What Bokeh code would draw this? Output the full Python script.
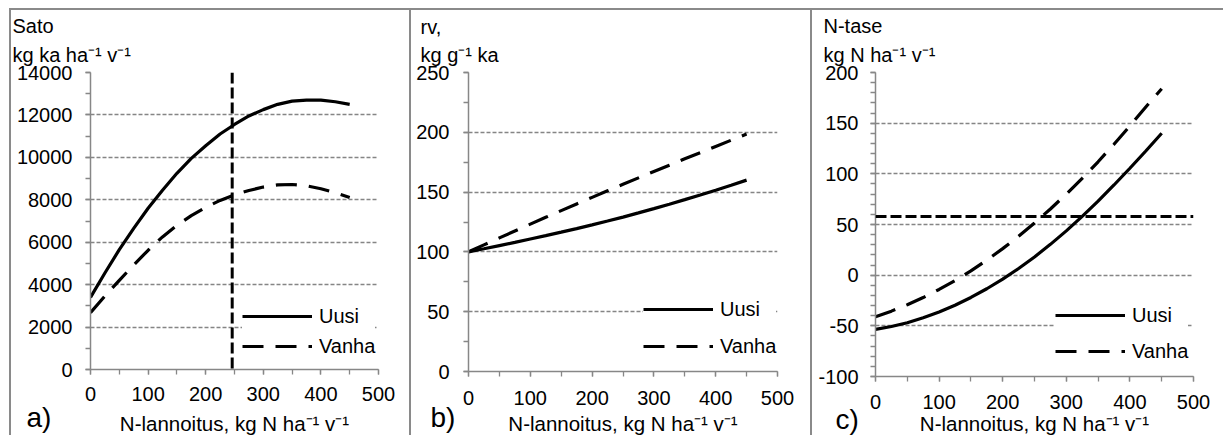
from bokeh.plotting import figure
from bokeh.models import (Range1d, FixedTicker, Span, Label, Legend, LegendItem,
                          Title, PrintfTickFormatter)
from bokeh.layouts import row, column
from bokeh.embed import file_html
from bokeh.resources import INLINE

# ---------------- data ----------------
n_rate = [0, 25, 50, 75, 100, 125, 150, 175, 200, 225, 250, 275, 300, 325, 350, 375, 400, 425, 450]

sato_uusi = [3400, 4550, 5650, 6650, 7600, 8450, 9250, 9950, 10550, 11100, 11550, 11950,
             12250, 12500, 12650, 12700, 12700, 12620, 12500]
sato_vanha = [2680, 3460, 4200, 4930, 5620, 6250, 6800, 7250, 7640, 7970, 8230, 8440,
              8600, 8700, 8720, 8660, 8520, 8330, 8110]

rv_uusi = [100, 102.6, 105.3, 108, 110.8, 113.6, 116.5, 119.5, 122.6, 125.8, 129.1, 132.6,
           136.2, 139.9, 143.7, 147.6, 151.6, 155.7, 160]
rv_vanha = [100, 105.9, 111.7, 117.5, 123.2, 128.9, 134.5, 140.1, 145.6, 151.1, 156.5, 161.9,
            167.2, 172.5, 177.8, 183.0, 188.2, 193.4, 198.5]

ntase_uusi = [-53.5, -50.7, -46.9, -42.1, -36.4, -29.7, -22, -13.4, -3.9, 6.6, 18, 30.4,
              43.7, 58, 73, 89, 105.5, 122.5, 140]
ntase_vanha = [-41, -35.5, -29.2, -22.1, -14.1, -5.3, 4.3, 14.9, 26.2, 38.4, 51.5, 65.3,
               80, 95.6, 111.9, 129.2, 147.3, 166, 184]

sato_marker_x = 246      # vertical reference line in panel a
ntase_marker_y = 58      # horizontal reference line in panel c

series_names = ["Uusi", "Vanha"]
x_ticks = [0, 100, 200, 300, 400, 500]
x_minor = [0, 50, 100, 150, 200, 250, 300, 350, 400, 450, 500]
x_title = "N-lannoitus, kg N ha\u207b\u00b9 v\u207b\u00b9"

# ---------------- style ----------------
FONT = "Liberation Sans"
GRAY = "#858585"
AXIS_GRAY = "#878787"
BORDER = "2px solid #8a8a8a"
TOP = 62


def make_panel(width, height, frame_left, frame_w, bottom, y_range, y_major, y_minor,
               legend_loc, legend_spacing, y_standoff, x_standoff, xt_standoff,
               ys_uusi, ys_vanha, name1, name2, title_offset, letter, letter_xy,
               inner_standoff, outer_standoff, styles):
    p = figure(width=width, height=height, output_backend="svg", toolbar_location=None,
               x_range=Range1d(0, 500), y_range=Range1d(*y_range),
               min_border_left=frame_left, min_border_right=width - frame_left - frame_w,
               min_border_top=TOP, min_border_bottom=bottom)
    p.styles = styles
    p.outline_line_color = None
    p.background_fill_color = "white"
    p.border_fill_color = "white"
    p.xgrid.grid_line_color = None
    p.ygrid.grid_line_color = GRAY
    p.ygrid.grid_line_dash = "4 2"
    p.ygrid.grid_line_width = 1.3

    for ax in (p.xaxis[0], p.yaxis[0]):
        ax.axis_line_color = AXIS_GRAY
        ax.axis_line_width = 1.5
        ax.major_tick_line_color = AXIS_GRAY
        ax.minor_tick_line_color = AXIS_GRAY
        ax.major_tick_line_width = 1.3
        ax.minor_tick_line_width = 1.3
        ax.major_tick_in = 0
        ax.major_tick_out = 5
        ax.minor_tick_in = 0
        ax.minor_tick_out = 5
        ax.major_label_text_font = FONT
        ax.major_label_text_font_size = "20px"
        ax.major_label_text_color = "black"
        ax.formatter = PrintfTickFormatter(format="%d")
    p.xaxis[0].ticker = FixedTicker(ticks=x_ticks, minor_ticks=x_minor)
    p.yaxis[0].ticker = FixedTicker(ticks=y_major, minor_ticks=y_minor)
    p.xaxis[0].major_label_standoff = x_standoff
    p.yaxis[0].major_label_standoff = y_standoff
    p.xaxis[0].axis_label = x_title
    p.xaxis[0].axis_label_text_font = FONT
    p.xaxis[0].axis_label_text_font_size = "20.5px"
    p.xaxis[0].axis_label_text_font_style = "normal"
    p.xaxis[0].axis_label_text_color = "black"
    p.xaxis[0].axis_label_standoff = xt_standoff

    r1 = p.line(n_rate, ys_uusi, line_color="black", line_width=3.2)
    r2 = p.line(n_rate, ys_vanha, line_color="black", line_width=3.2, line_dash="21 12")

    legend = Legend(items=[LegendItem(label=series_names[0], renderers=[r1]),
                           LegendItem(label=series_names[1], renderers=[r2])],
                    location=legend_loc, orientation="vertical",
                    glyph_width=70, glyph_height=24, label_height=24,
                    label_standoff=7, spacing=legend_spacing, padding=8, margin=0,
                    border_line_color=None, background_fill_color="white",
                    background_fill_alpha=1.0,
                    label_text_font=FONT, label_text_font_size="20px",
                    label_text_color="black")
    p.add_layout(legend, "center")

    # y-axis name and unit, top-left
    p.add_layout(Title(text=name2, align="left", offset=title_offset,
                       text_font=FONT, text_font_size="20px", text_font_style="normal",
                       text_color="black", standoff=inner_standoff), "above")
    p.add_layout(Title(text=name1, align="left", offset=title_offset,
                       text_font=FONT, text_font_size="20px", text_font_style="normal",
                       text_color="black", standoff=outer_standoff), "above")
    # panel letter, bottom-left (label kept in the narrow right side panel)
    p.add_layout(Label(x=letter_xy[0], y=letter_xy[1], x_units="screen", y_units="screen",
                       text=letter, text_font=FONT, text_font_size="28px",
                       text_color="black", text_align="left",
                       text_baseline="alphabetic"), "right")
    return p


# panel a  (frame: x 90..378, y 72..370)
pa = make_panel(400, 427, 79, 288, 67, (0, 14000),
                list(range(0, 14001, 2000)), list(range(0, 14001, 1000)),
                (152, 11), 6, 13, 12, 8, sato_uusi, sato_vanha,
                "Sato", "kg ka ha\u207b\u00b9 v\u207b\u00b9", -78, "a)", (-352, -48), 14, -4,
                {"margin-left": "9px", "margin-top": "8px",
                 "border-left": BORDER, "border-top": BORDER})
pa.add_layout(Span(location=sato_marker_x, dimension="height", line_color="black",
                   line_width=3, line_dash="11 4"))

# panel b  (frame: x 468..777, y 72..372)
pb = make_panel(401, 427, 57, 309, 65, (0, 250),
                list(range(0, 251, 50)), list(range(0, 251, 25)),
                (175, 13), 13, 14, 14, 4, rv_uusi, rv_vanha,
                "rv,", "kg g\u207b\u00b9 ka", -48, "b)", (-347, -46), 13, -4,
                {"margin-top": "8px", "border-left": BORDER, "border-top": BORDER})

# panel c  (frame: x 875..1193, y 72..377)
pc = make_panel(413, 427, 63, 318, 60, (-100, 200),
                list(range(-100, 201, 50)), list(range(-100, 201, 10)),
                (180, 13), 12, 12, 13, 0, ntase_uusi, ntase_vanha,
                "N-tase", "kg N ha\u207b\u00b9 v\u207b\u00b9", -52, "c)", (-358, -42.5), 14, -4,
                {"margin-top": "8px", "border-left": BORDER, "border-top": BORDER})
pc.add_layout(Span(location=ntase_marker_y, dimension="width", line_color="black",
                   line_width=3, line_dash="11 4"))

layout = row(column(pa), column(pb), column(pc), spacing=0)
open("out.html", "w").write(file_html(layout, INLINE))
